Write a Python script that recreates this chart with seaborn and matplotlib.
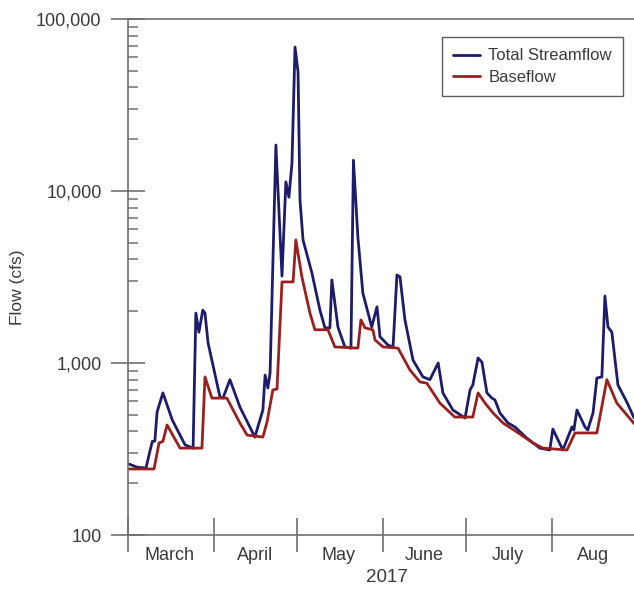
import numpy as np
import pandas as pd
import matplotlib
matplotlib.use("Agg")
import matplotlib.pyplot as plt
import matplotlib.dates as mdates
from matplotlib.ticker import LogLocator, FixedLocator, FuncFormatter, NullFormatter, FixedFormatter
import seaborn as sns

# ---- data (days after 2017-03-01, flow in cfs) ----
total_days = [0, 3.2, 6.5, 8.0, 8.8, 9.7, 10.5, 12.6, 16.0, 20.6, 23.5, 24.5, 25.6, 27.0, 27.8,
              28.9, 33.2, 34.3, 36.8, 40.4, 45.8, 48.7, 49.5, 50.5, 51.3, 53.4, 55.6, 57.0, 58.1,
              59.2, 60.3, 61.4, 62.1, 63.2, 66.4, 69.3, 71.1, 72.9, 73.6, 75.8, 78.3, 80.5, 81.4,
              83.0, 84.8, 88.0, 89.9, 91.0, 93.9, 95.7, 97.1, 98.2, 100.0, 102.9, 106.5, 109.0,
              112.0, 113.7, 117.3, 121.7, 123.5, 124.5, 126.4, 127.8, 129.6, 131.4, 132.5, 134.3,
              137.2, 139.7, 144.0, 148.7, 152.3, 153.4, 157.0, 160.3, 161.0, 162.1, 165.0, 166.0,
              167.9, 169.3, 171.1, 172.2, 173.3, 174.7, 176.9, 180.1, 182.7]
total_flow = [260, 248, 245, 312, 350, 352, 519, 670, 466, 334, 320, 1950, 1510, 2030, 1950,
              1310, 635, 625, 800, 555, 371, 533, 851, 716, 875, 18500, 3200, 11300, 9200,
              14500, 68700, 49200, 8870, 5190, 3340, 2030, 1600, 1600, 3040, 1620, 1240, 1220, 15100,
              5400, 2550, 1620, 2120, 1420, 1270, 1240, 3250, 3170, 1780, 1040, 830, 800,
              1000, 670, 533, 479, 697, 745, 1070, 1010, 670, 625, 610, 512,
              448, 425, 366, 320, 312, 413, 312, 425, 408, 533, 425, 408,
              512, 818, 830, 2450, 1620, 1510, 745, 593, 480]

base_days = [0, 9.4, 11.2, 12.6, 14.1, 18.8, 26.7, 27.8, 30.3, 35.7, 40.4, 43.0, 48.7, 50.2,
             52.3, 53.8, 55.6, 59.6, 60.6, 62.8, 65.7, 67.5, 72.2, 74.7, 83.0, 84.1, 85.6, 88.4,
             89.2, 92.1, 97.5, 101.8, 105.4, 107.9, 112.6, 118.0, 124.5, 126.4, 128.9, 131.8,
             135.4, 140.4, 146.2, 149.8, 158.5, 161.4, 169.3, 172.9, 176.5, 182.7]
base_flow = [242, 242, 343, 350, 436, 320, 320, 830, 625, 625, 448, 381, 371, 454,
             697, 706, 2960, 2960, 5190, 3160, 1950, 1560, 1560, 1240, 1220, 1780, 1600, 1560,
             1360, 1240, 1220, 910, 776, 763, 585, 485, 485, 670, 585, 512,
             448, 397, 343, 320, 312, 392, 392, 800, 585, 445]

series_names = ["Total Streamflow", "Baseflow"]
month_labels = ["March", "April", "May", "June", "July", "Aug"]
y_ticks = [100, 1000, 10000, 100000]

start = pd.Timestamp("2017-03-01")
df = pd.concat([
    pd.DataFrame({"date": start + pd.to_timedelta(total_days, unit="D"),
                  "flow": total_flow, "series": series_names[0]}),
    pd.DataFrame({"date": start + pd.to_timedelta(base_days, unit="D"),
                  "flow": base_flow, "series": series_names[1]}),
], ignore_index=True)

sns.set_theme(style="white")
plt.rcParams["font.family"] = ["Liberation Sans", "DejaVu Sans"]

txt = "#3a3a3a"
axc = "#707070"

fig = plt.figure(figsize=(6.34, 5.92), dpi=100)
ax = fig.add_axes([128 / 634, 1 - 535 / 592, 1 - 128 / 634, (535 - 19) / 592])

sns.lineplot(data=df, x="date", y="flow", hue="series", estimator=None, sort=False,
             palette={series_names[0]: "#1c1c6b", series_names[1]: "#9a1f1f"},
             linewidth=2.0, ax=ax)

ax.set_yscale("log")
ax.set_ylim(100, 100000)
ax.set_xlim(start, start + pd.Timedelta(days=182.7))

# y axis ticks
ax.yaxis.set_major_locator(FixedLocator(y_ticks))
ax.yaxis.set_major_formatter(FuncFormatter(lambda v, p: f"{int(round(v)):,}"))
ax.yaxis.set_minor_locator(LogLocator(base=10, subs=np.arange(2, 10)))
ax.yaxis.set_minor_formatter(NullFormatter())
ax.tick_params(axis="y", which="major", direction="inout", length=24, width=1.2,
               color=axc, labelsize=13, labelcolor=txt, pad=7, left=True)
ax.tick_params(axis="y", which="minor", direction="in", length=7, width=1.1,
               color=axc, left=True)

# x axis: month boundaries as ticks, month names at mid-month
bounds = pd.date_range("2017-03-01", periods=7, freq="MS")
mids = [b + pd.Timedelta(days=15) for b in bounds[:6]]
ax.xaxis.set_major_locator(FixedLocator(mdates.date2num(bounds)))
ax.xaxis.set_major_formatter(NullFormatter())
ax.xaxis.set_minor_locator(FixedLocator(mdates.date2num(mids)))
ax.xaxis.set_minor_formatter(FixedFormatter(month_labels))
ax.tick_params(axis="x", which="major", direction="inout", length=25, width=1.2,
               color=axc, bottom=True)
ax.tick_params(axis="x", which="minor", length=0, labelsize=13, labelcolor=txt, pad=9,
               bottom=True)

for s in ["left", "bottom", "top"]:
    ax.spines[s].set_color(axc)
    ax.spines[s].set_linewidth(1.2)
ax.spines["right"].set_visible(False)

ax.set_xlabel("2017", fontsize=13.5, color=txt)
ax.xaxis.set_label_coords((387 - 128) / 506, (535 - 578) / 516)
ax.xaxis.label.set_va("center")
ax.set_ylabel("Flow (cfs)", fontsize=12.5, color=txt)
ax.yaxis.set_label_coords((18 - 128) / 506, (535 - 287) / 516)
ax.yaxis.label.set_va("center")

leg = ax.legend(loc="upper right", bbox_to_anchor=((623 - 128) / 506, (535 - 37) / 516),
                borderaxespad=0, fontsize=12, frameon=True, fancybox=False,
                handlelength=1.6, handletextpad=0.5, labelspacing=0.4, borderpad=0.68,
                title=None)
leg.get_frame().set_edgecolor("#333333")
leg.get_frame().set_linewidth(1.0)
for t in leg.get_texts():
    t.set_color(txt)

fig.savefig("out.png", dpi=100)
